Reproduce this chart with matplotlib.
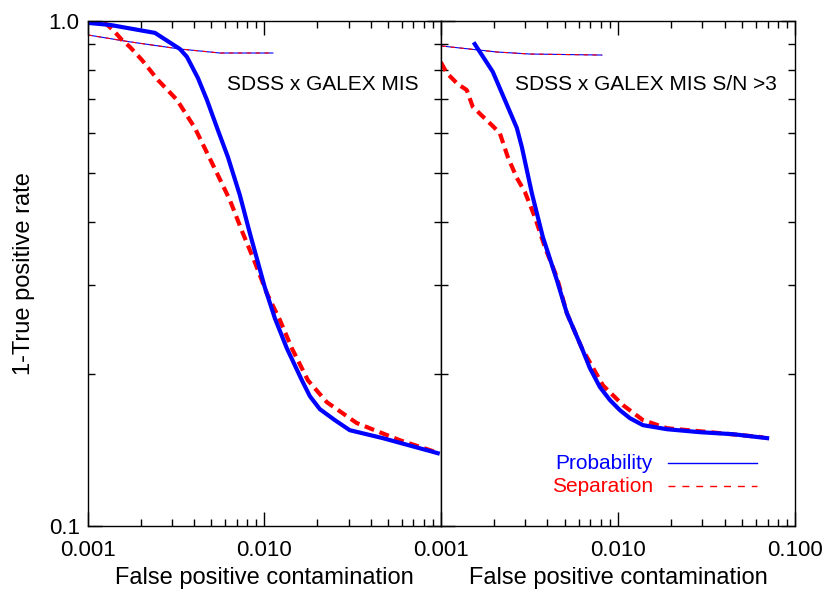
import numpy as np
import matplotlib
matplotlib.use("Agg")
import matplotlib.pyplot as plt
from matplotlib.ticker import FixedLocator, FixedFormatter, LogLocator, NullFormatter

plt.rcParams['font.family'] = ['Liberation Sans', 'DejaVu Sans']

# Left panel: SDSS x GALEX MIS
left_prob_x = [0.001, 0.001333, 0.002397, 0.003320, 0.003639, 0.004201, 0.004723, 0.005452,
               0.006213, 0.007264, 0.008277, 0.01006, 0.01147, 0.01341, 0.01632, 0.01811,
               0.02063, 0.02508, 0.03051, 0.04692, 0.09616]
left_prob_y = [0.991, 0.982, 0.947, 0.880, 0.849, 0.771, 0.698, 0.608,
               0.538, 0.452, 0.380, 0.297, 0.258, 0.225, 0.1945, 0.1809,
               0.1705, 0.1622, 0.1549, 0.1494, 0.1395]
left_sep_x = [0.001, 0.001248, 0.001386, 0.001558, 0.001730, 0.002023, 0.002492, 0.003194,
              0.004038, 0.005382, 0.006377, 0.007553, 0.008836, 0.01033, 0.01224, 0.01432,
              0.01765, 0.02260, 0.03343, 0.05858, 0.09491]
left_sep_y = [0.9955, 0.991, 0.960, 0.917, 0.888, 0.837, 0.764, 0.698,
              0.614, 0.500, 0.442, 0.380, 0.333, 0.289, 0.256, 0.225,
              0.1945, 0.176, 0.160, 0.148, 0.140]
left_thin_x = [0.001, 0.001730, 0.003320, 0.005596, 0.01117]
left_thin_y = [0.938, 0.909, 0.880, 0.864, 0.864]

# Right panel: SDSS x GALEX MIS S/N >3
right_prob_x = [0.001556, 0.001967, 0.002299, 0.002688, 0.002869, 0.003268, 0.003770, 0.004522,
                0.005150, 0.006260, 0.006948, 0.007915, 0.009011, 0.01026, 0.01169, 0.01384,
                0.01891, 0.02906, 0.04464, 0.06948]
right_prob_y = [0.900, 0.793, 0.698, 0.614, 0.563, 0.456, 0.3735, 0.307,
                0.264, 0.225, 0.2055, 0.1885, 0.1777, 0.1697, 0.1636, 0.1585,
                0.1556, 0.1535, 0.1521, 0.1494]
right_sep_x = [0.001, 0.001081, 0.001247, 0.001402, 0.001516, 0.001942, 0.002154, 0.002390,
               0.002688, 0.002983, 0.003398, 0.003869, 0.004522, 0.005150, 0.006260, 0.008229,
               0.01067, 0.01384, 0.01891, 0.03311, 0.06595]
right_sep_y = [0.829, 0.789, 0.750, 0.730, 0.676, 0.622, 0.600, 0.538,
               0.489, 0.459, 0.409, 0.357, 0.311, 0.264, 0.225, 0.190,
               0.1737, 0.1622, 0.1563, 0.1535, 0.150]
right_thin_x = [0.001013, 0.002072, 0.003184, 0.008123]
right_thin_y = [0.892, 0.868, 0.860, 0.856]

left_xticks = [0.001, 0.01]
left_xlabels = ["0.001", "0.010"]
right_xticks = [0.001, 0.01, 0.1]
right_xlabels = ["0.001", "0.010", "0.100"]
yticks = [0.1, 1.0]
ylabels = ["0.1", "1.0"]

BLUE = (0, 0, 1)
RED = (1, 0, 0)

fig = plt.figure(figsize=(8.3, 5.98), dpi=100)
ax1 = fig.add_axes([0.106, 0.120, 0.425, 0.845])
ax2 = fig.add_axes([0.531, 0.120, 0.427, 0.845])

panels = [
    (ax1, left_prob_x, left_prob_y, left_sep_x, left_sep_y, left_thin_x, left_thin_y,
     left_xticks, left_xlabels, "SDSS x GALEX MIS", 0.666),
    (ax2, right_prob_x, right_prob_y, right_sep_x, right_sep_y, right_thin_x, right_thin_y,
     right_xticks, right_xlabels, "SDSS x GALEX MIS S/N >3", 0.579),
]

for ax, px, py, sx, sy, tx, ty, xt, xl, title, tpos in panels:
    ax.set_xscale("log")
    ax.set_yscale("log")
    ax.plot(tx, ty, color=BLUE, lw=0.8)
    ax.plot(tx, ty, color=RED, lw=0.8, dashes=(4, 4))
    ax.plot(sx, sy, color=RED, lw=3.0, dashes=(2.4, 1.4))
    ax.plot(px, py, color=BLUE, lw=3.0)
    ax.set_xlim(0.001, 0.1)
    ax.set_ylim(0.1, 1.0)
    ax.xaxis.set_major_locator(FixedLocator(xt))
    ax.xaxis.set_major_formatter(FixedFormatter(xl))
    ax.xaxis.set_minor_locator(LogLocator(base=10, subs=np.arange(2, 10)))
    ax.xaxis.set_minor_formatter(NullFormatter())
    ax.yaxis.set_major_locator(FixedLocator(yticks))
    ax.yaxis.set_minor_locator(LogLocator(base=10, subs=np.arange(2, 10)))
    ax.yaxis.set_minor_formatter(NullFormatter())
    ax.tick_params(which="both", direction="in", top=True, right=True, width=1.0)
    ax.tick_params(which="major", length=10)
    ax.tick_params(which="minor", length=5)
    ax.tick_params(axis="x", which="major", labelsize=16, pad=10)
    ax.set_xlabel("False positive contamination", fontsize=17, labelpad=4)
    ax.text(tpos, 0.875, title, transform=ax.transAxes, ha="center", va="center", fontsize=15)
    for s in ax.spines.values():
        s.set_linewidth(1.0)

ax1.yaxis.set_major_formatter(FixedFormatter(ylabels))
ax1.tick_params(axis="y", which="major", labelsize=16, pad=6)
ax1.set_ylabel("1-True positive rate", fontsize=17, labelpad=10)
ax2.yaxis.set_major_formatter(NullFormatter())

# legend drawn by hand, IDL style
ax2.text(0.599, 0.125, "Probability", color=BLUE, transform=ax2.transAxes,
         ha="right", va="center", fontsize=15)
ax2.plot([0.641, 0.893], [0.125, 0.125], color=BLUE, lw=1.0, transform=ax2.transAxes)
ax2.text(0.599, 0.079, "Separation", color=RED, transform=ax2.transAxes,
         ha="right", va="center", fontsize=15)
ax2.plot([0.641, 0.893], [0.079, 0.079], color=RED, lw=1.0, dashes=(5, 5),
         transform=ax2.transAxes)

fig.savefig("out.png", dpi=100)
